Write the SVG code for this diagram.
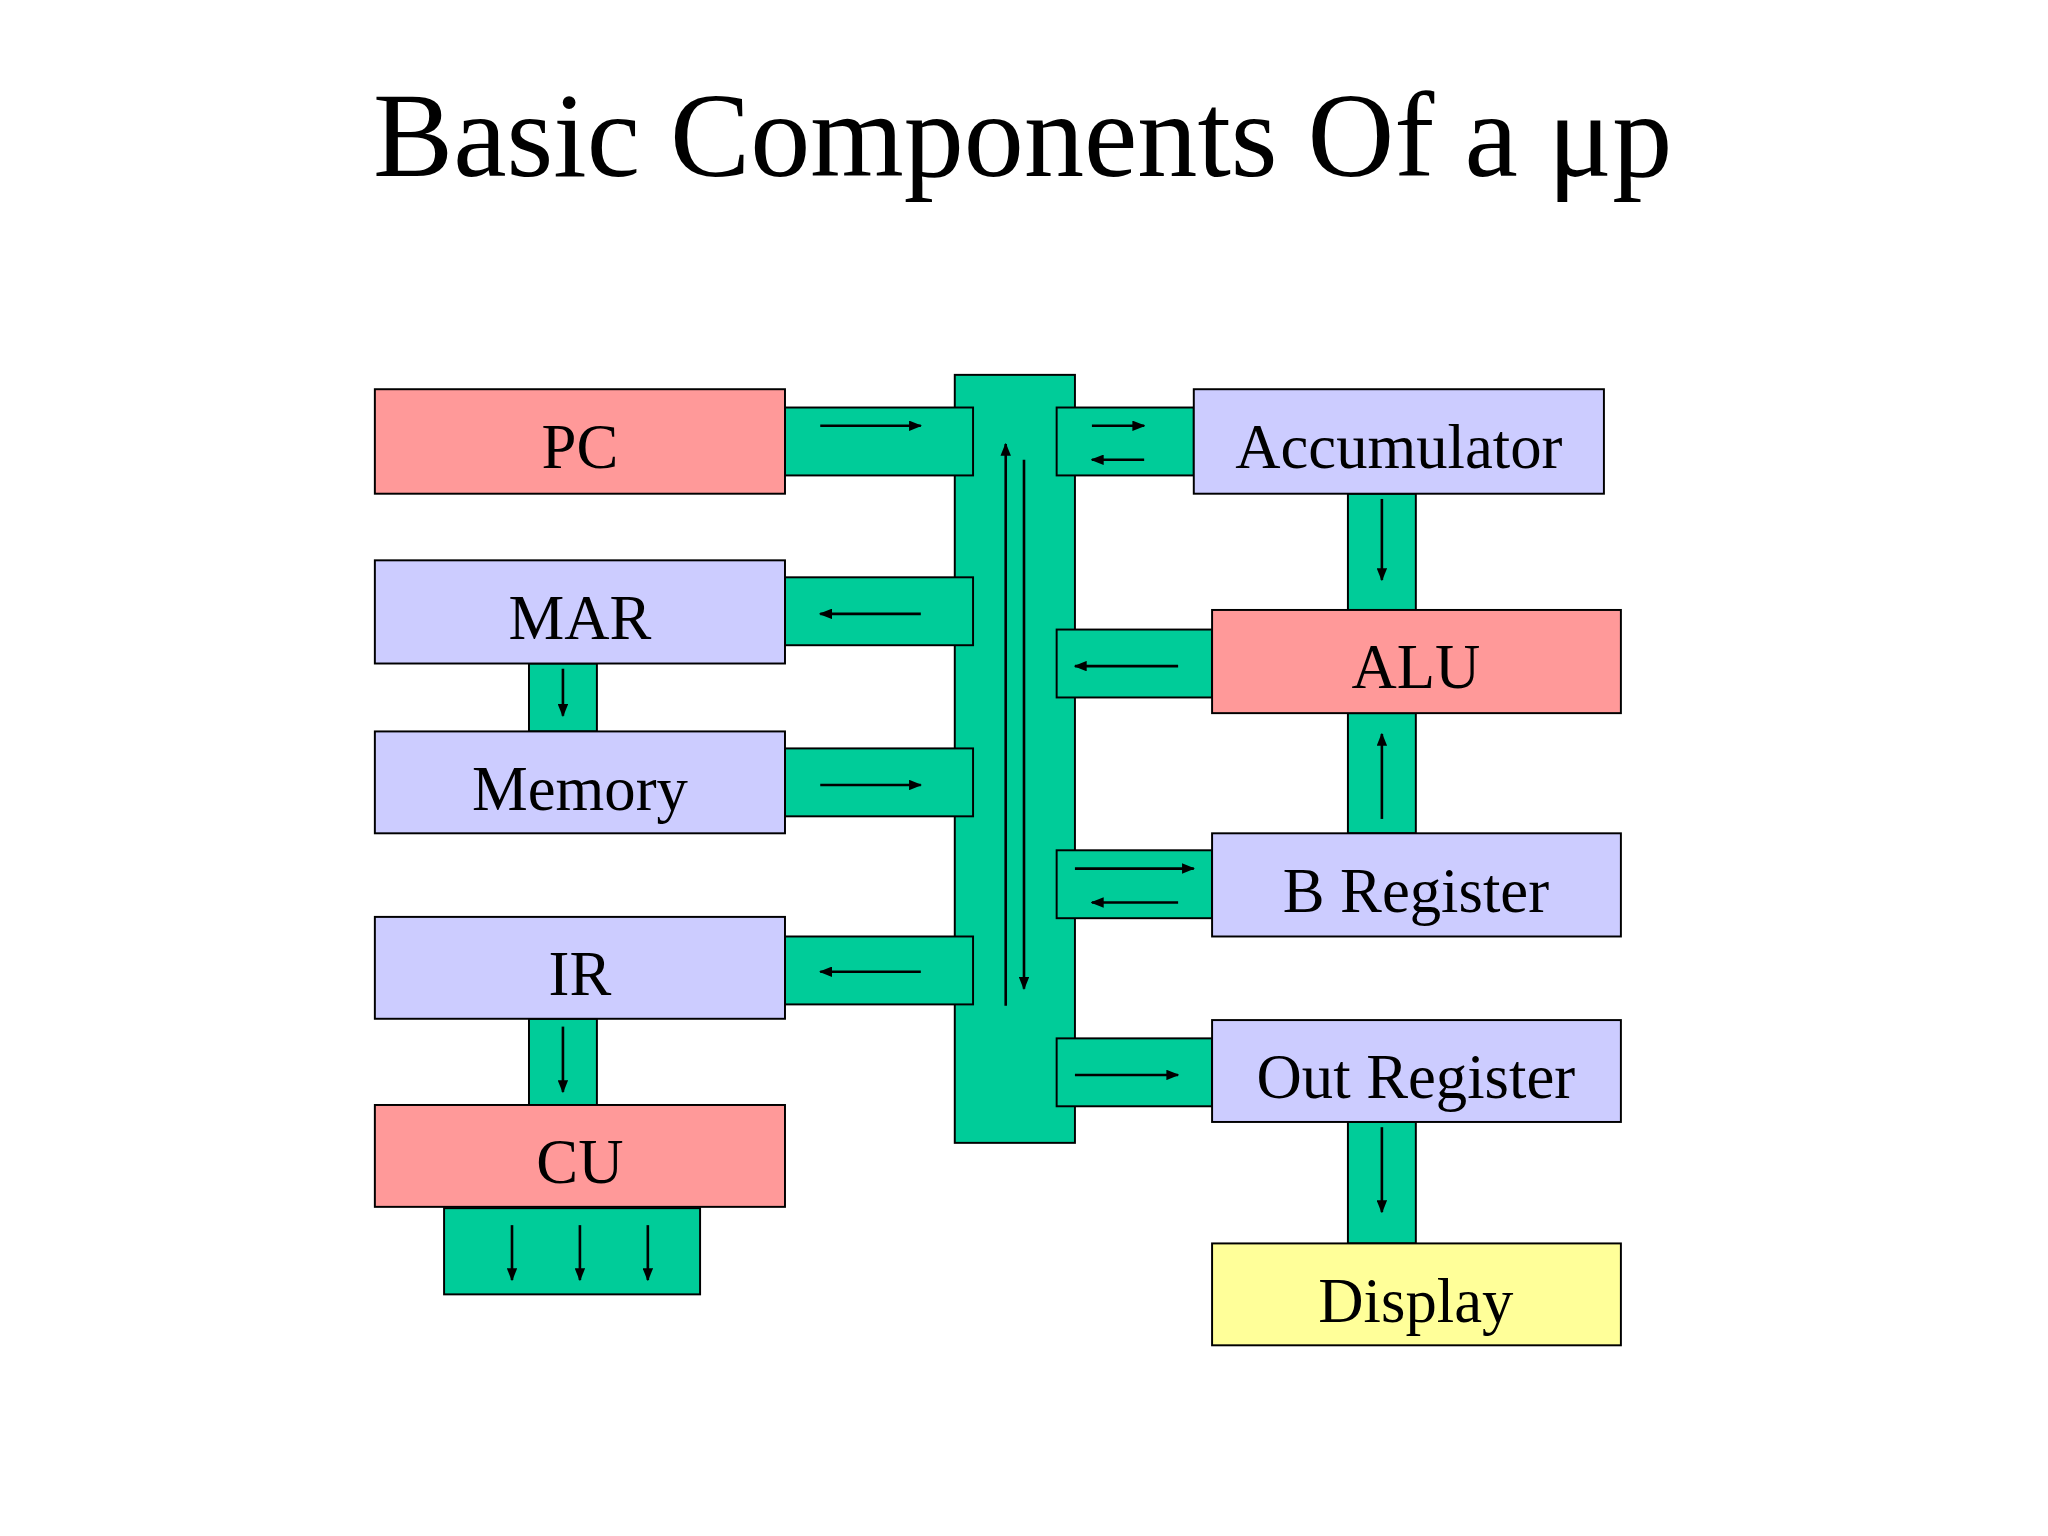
<svg xmlns="http://www.w3.org/2000/svg" width="2048" height="1536" viewBox="0 0 2048 1536">
<style>
.r{fill:#FF9999;stroke:#000;stroke-width:1.5}
.b{fill:#CCCCFF;stroke:#000;stroke-width:1.5}
.y{fill:#FFFF99;stroke:#000;stroke-width:1.5}
.g{fill:#00CC99;stroke:#000;stroke-width:1.5}
.t{font-family:"Liberation Serif","Times New Roman",serif;font-size:48px;text-anchor:middle;fill:#000}
.a{stroke:#000;stroke-width:2;fill:none;marker-end:url(#ah)}
</style>
<defs><marker id="ah" markerWidth="10" markerHeight="8" refX="9" refY="4" orient="auto" markerUnits="userSpaceOnUse"><path d="M0,0 L10,4 L0,8 z" fill="#000"/></marker></defs>
<rect width="2048" height="1536" fill="#fff"/>
<g transform="scale(1.30612)">
<text x="783" y="135" style="font-family:'Liberation Serif','Times New Roman',serif;font-size:92px;text-anchor:middle">Basic Components Of a μp</text>
<g id="connectors">
<rect class="g" x="731" y="287" width="92" height="588"/>
<rect class="g" x="601" y="312" width="144" height="52"/>
<rect class="g" x="601" y="442" width="144" height="52"/>
<rect class="g" x="601" y="573" width="144" height="52"/>
<rect class="g" x="601" y="717" width="144" height="52"/>
<rect class="g" x="405" y="508" width="52" height="52"/>
<rect class="g" x="405" y="780" width="52" height="66"/>
<rect class="g" x="340" y="925" width="196" height="66"/>
<rect class="g" x="809" y="312" width="105" height="52"/>
<rect class="g" x="809" y="482" width="119" height="52"/>
<rect class="g" x="809" y="651" width="119" height="52"/>
<rect class="g" x="809" y="795" width="119" height="52"/>
<rect class="g" x="1032" y="378" width="52" height="89"/>
<rect class="g" x="1032" y="546" width="52" height="92"/>
<rect class="g" x="1032" y="859" width="52" height="93"/>
<path class="a" d="M628 326H705"/>
<path class="a" d="M705 470H628"/>
<path class="a" d="M628 601H705"/>
<path class="a" d="M705 744H628"/>
<path class="a" d="M836 326H876"/>
<path class="a" d="M876 352H836"/>
<path class="a" d="M902 510H823"/>
<path class="a" d="M823 665H914"/>
<path class="a" d="M902 691H836"/>
<path class="a" d="M823 823H902"/>
<path class="a" d="M770 770V340"/>
<path class="a" d="M784 352V757"/>
<path class="a" d="M431 512V548"/>
<path class="a" d="M431 786V836"/>
<path class="a" d="M392 938V980"/>
<path class="a" d="M444 938V980"/>
<path class="a" d="M496 938V980"/>
<path class="a" d="M1058 382V444"/>
<path class="a" d="M1058 627V562"/>
<path class="a" d="M1058 863V928"/>
</g>
<g id="pc"><rect class="r" x="287" y="298" width="314" height="80"/><text class="t" x="444" y="358">PC</text></g>
<g id="mar"><rect class="b" x="287" y="429" width="314" height="79"/><text class="t" x="444" y="489">MAR</text></g>
<g id="memory"><rect class="b" x="287" y="560" width="314" height="78"/><text class="t" x="444" y="620">Memory</text></g>
<g id="ir"><rect class="b" x="287" y="702" width="314" height="78"/><text class="t" x="444" y="762">IR</text></g>
<g id="cu"><rect class="r" x="287" y="846" width="314" height="78"/><text class="t" x="444" y="906">CU</text></g>
<g id="acc"><rect class="b" x="914" y="298" width="314" height="80"/><text class="t" x="1071" y="358">Accumulator</text></g>
<g id="alu"><rect class="r" x="928" y="467" width="313" height="79"/><text class="t" x="1084" y="527">ALU</text></g>
<g id="breg"><rect class="b" x="928" y="638" width="313" height="79"/><text class="t" x="1084" y="698">B Register</text></g>
<g id="outreg"><rect class="b" x="928" y="781" width="313" height="78"/><text class="t" x="1084" y="841">Out Register</text></g>
<g id="display"><rect class="y" x="928" y="952" width="313" height="78"/><text class="t" x="1084" y="1012">Display</text></g>
</g>
</svg>
